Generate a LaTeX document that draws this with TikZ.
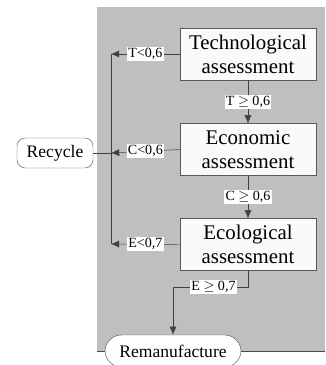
\documentclass[tikz,border=0pt]{standalone}
\usepackage{fontspec}
\setmainfont{Liberation Serif}
\usepackage{amsmath}
\usetikzlibrary{arrows.meta}
\tikzset{
	assess/.style={draw=gray!70!black, fill=gray!4, align=center, minimum width=4.08cm, minimum height=1.55cm, inner sep=1pt, font=\fontsize{17.8}{20.5}\selectfont},
	lbl/.style={fill=white, inner sep=1pt, font=\fontsize{12}{13}\selectfont},
	ende/.style={draw=gray!70!black, fill=white, rounded corners=7pt, font=\fontsize{15}{17}\selectfont},
	flow/.style={draw=black!75, -{Latex[length=7pt,width=6pt]}}
}

\begin{document}
\begin{tikzpicture}[x=0.03cm, y=-0.03cm]
		\useasboundingbox (0,0) rectangle (325,365);
		\fill[gray!50] (97,7) rectangle (325,351); % grauer Bereich
		\draw[black!70] (97,351) -- (325,351);
		\node[assess] (tech) at (248,54) {Technological\\assessment};
		\node[assess] (econ) at (248,149.5) {Economic\\assessment};
		\node[assess] (ecol) at (248,244.5) {Ecological\\assessment};
		\node[ende, minimum width=2.28cm, minimum height=0.9cm] (recycle) at (55,153) {Recycle};
		\node[ende, rounded corners=14pt, minimum width=4.08cm, minimum height=0.96cm] (reman) at (173,351) {Remanufacture};
		\coordinate (t) at (111,54);
		\coordinate (c) at (111,153);
		\coordinate (e) at (111,244);
		\coordinate (ek) at (173,287);
		% nach unten
		\draw[flow] (tech.south) -- node[lbl]{T $\geq$ 0,6} (econ.north);
		\draw[flow] (econ.south) -- node[lbl]{C $\geq$ 0,6} (ecol.north);
		\draw[flow] (ecol.south) |- node[lbl, pos=0.73]{E $\geq$ 0,7} (ek) -- (reman.north);
		% nach links
		\draw[flow] (tech.west) -- node[lbl]{T<0,6} (t);
		\draw[flow] (econ.west) -- node[lbl]{C<0,6} (c);
		\draw[flow] (ecol.west) -- node[lbl]{E<0,7} (e);
		\draw[black!75] (t) -- (e);
		\draw[black!75] (c) -- (recycle.east);
	\end{tikzpicture}
\end{document}
